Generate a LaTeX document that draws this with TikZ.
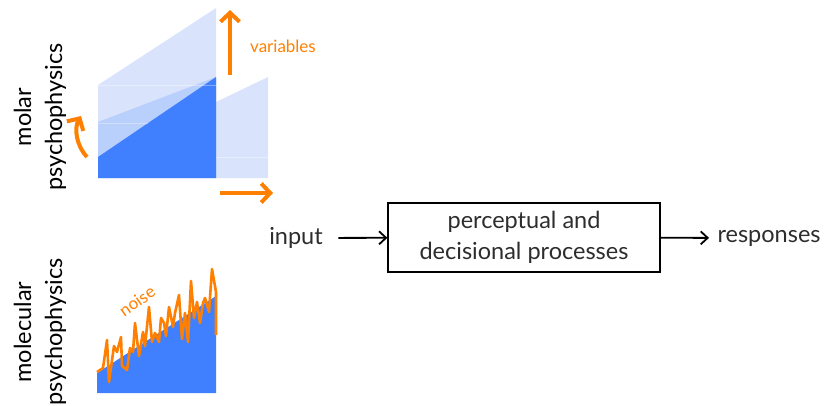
\documentclass[tikz,border=0pt]{standalone}
\usepackage{fontspec}
\setmainfont{Lato}
\usetikzlibrary{arrows.meta}
\definecolor{orng}{RGB}{255,128,0}
\definecolor{paleblue}{RGB}{217,228,252}
\definecolor{midblue}{RGB}{185,207,252}
\definecolor{deepblue}{RGB}{64,128,255}
\definecolor{txtgray}{RGB}{45,45,45}
\begin{document}
\begin{tikzpicture}[x=1pt, y=-1pt,
    lbl/.style={font=\fontsize{23.5}{31}\selectfont, align=center},
    flow/.style={-{Straight Barb[length=7pt,width=13pt]}, line width=1.8pt},
    var/.style={-{Straight Barb[length=9pt,width=19pt]}, line width=4pt, orng},
    edge/.style={white, opacity=0.35, line width=0.8pt}]
    \useasboundingbox (0,0) rectangle (825,405);
    % molar panels
    \fill[paleblue] (98,178) -- (98,85) -- (216,8) -- (216,178) -- cycle;
    \fill[paleblue] (216,178) -- (216,102) -- (268,77) -- (268,178) -- cycle;
    \fill[midblue] (98,178) -- (98,122) -- (216,77) -- (216,178) -- cycle;
    \fill[deepblue] (98,178) -- (98,157) -- (216,77) -- (216,178) -- cycle;
    \draw[edge] (98,85) -- (216,85);
    \draw[edge] (98,123) -- (148,123);
    \draw[edge] (216,157) -- (268,157);
    \draw[var] (230,75) -- (230,10);
    \node[orng, font=\fontsize{17}{20}\selectfont] (vars) at (283,46) {variables};
    \draw[var] (220,193) -- (273,193);
    \draw[var] (87,157) .. controls (76,145) and (74,128) .. (81,116);
    \node[lbl, rotate=90] (molar) at (40,117) {molar\\psychophysics};
    % molecular panel
    \fill[deepblue] (97,393) -- (97,373) -- (216,296) -- (216,393) -- cycle;
    \draw[orng, line width=2.6pt, line join=round] (97,372) -- (103,368) -- (107,340) -- (109,382)
        -- (114,346) -- (117,352) -- (121,337) -- (122,366) -- (127,370) -- (130,348)
        -- (133,352) -- (135,323) -- (139,356) -- (143,332) -- (145,346) -- (149,307)
        -- (152,342) -- (155,333) -- (159,342) -- (161,318) -- (164,323) -- (166,336)
        -- (169,307) -- (173,327) -- (175,313) -- (179,295) -- (182,339) -- (185,313)
        -- (188,342) -- (191,281) -- (194,318) -- (197,302) -- (200,323) -- (203,303)
        -- (205,298) -- (209,312) -- (212,269) -- (216,292) -- (216,335);
    \node[orng, rotate=35, inner sep=1pt, font=\fontsize{17}{20}\selectfont] (noise) at (137,301) {noise};
    \node[lbl, rotate=90] (molec) at (40,332) {molecular\\psychophysics};
    % flow
    \node[lbl, txtgray] (input) at (296,238) {input};
    \node[lbl, txtgray, draw=black, line width=1.2pt, minimum width=272pt, minimum height=69pt] (proc) at (524,237.5) {perceptual and\\decisional processes};
    \node[lbl, txtgray, anchor=west] (resp) at (714,238) {responses};
    \draw[flow, shorten <=12pt] (input) -- (proc);
    \draw[flow, shorten >=5pt] (proc) -- (resp);
\end{tikzpicture}
\end{document}
